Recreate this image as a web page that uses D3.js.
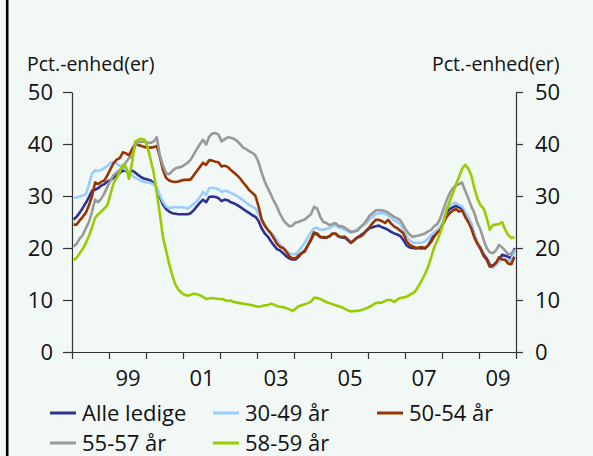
<!DOCTYPE html>
<html>
<head>
<meta charset="utf-8">
<script src="https://cdn.jsdelivr.net/npm/d3@7"></script>
<style>
    body { margin: 0; background: #f1f8f6; }
    svg { display: block; font-family: "Open Sans", sans-serif; }
</style>
</head>
<body>
<div id="chart"></div>
<script>
// månedlige tal, jan 1998 - dec 2009
const startYear = 1998;
const seriesNames = ["Alle ledige", "30-49 år", "50-54 år", "55-57 år", "58-59 år"];
const seriesColors = ["#2e3192", "#99ccff", "#993300", "#999999", "#99cc00"];
const yTicks = [0, 10, 20, 30, 40, 50];
const xLabelYears = [1999, 2001, 2003, 2005, 2007, 2009];
const xLabels = ["99", "01", "03", "05", "07", "09"];
const axisTitle = "Pct.-enhed(er)";

const alleLedige = [25.5,26.0,26.8,27.7,28.7,29.8,31.0,31.2,31.5,32.0,32.3,32.8,
    33.1,33.5,34.0,34.4,34.9,34.8,34.5,34.9,34.5,34.0,33.6,33.3,
    33.2,33.0,32.5,31.5,29.8,28.3,27.5,27.0,26.7,26.6,26.5,26.5,
    26.5,26.5,26.7,27.3,28.0,28.7,29.3,28.8,29.8,29.9,29.8,29.6,
    29.0,29.3,29.2,28.8,28.6,28.3,27.9,27.5,27.1,26.7,26.3,26.0,
    25.2,23.8,22.8,22.2,21.3,20.5,19.8,19.5,19.0,18.4,18.0,17.8,
    17.8,18.3,19.0,19.5,20.5,21.5,22.8,22.6,22.1,22.1,22.0,22.2,
    22.8,22.7,22.2,22.0,22.0,21.5,21.0,21.5,22.0,22.4,22.8,23.3,
    23.8,24.0,24.2,24.3,24.0,23.8,23.5,23.1,22.8,22.6,22.3,21.5,
    20.5,20.1,20.0,19.9,20.0,19.9,20.0,20.5,21.5,22.8,23.3,23.8,
    25.0,26.8,27.5,27.8,28.1,27.8,27.6,26.5,25.8,24.5,22.5,21.0,
    20.0,18.8,18.0,16.8,16.5,17.2,17.8,18.7,18.5,18.3,18.0,20.0];

const aar3049 = [29.6,29.7,29.9,30.1,30.3,32.3,34.3,35.0,34.8,35.0,35.4,35.8,
    36.4,36.6,36.2,35.8,35.5,35.0,34.5,34.0,33.5,33.2,32.9,32.7,
    32.6,32.5,32.2,31.5,30.2,28.9,28.0,27.7,27.8,27.9,27.8,27.9,
    27.8,27.6,28.0,28.5,29.0,29.8,30.8,30.2,31.5,31.6,31.5,31.3,
    30.8,31.0,30.9,30.6,30.3,30.0,29.6,29.2,28.7,28.3,27.9,27.6,
    26.5,25.5,24.5,23.5,23.0,22.3,21.5,20.6,20.1,19.5,19.0,18.8,
    18.8,19.4,20.2,21.0,22.1,23.0,23.8,23.9,23.5,23.5,23.7,23.8,
    24.3,24.4,24.0,23.8,23.5,23.2,22.9,23.2,23.6,24.0,24.5,24.8,
    25.5,26.0,26.5,26.7,26.7,26.6,26.3,25.8,25.3,25.0,24.6,23.5,
    22.3,21.5,21.0,21.0,21.0,21.0,21.3,21.8,22.5,23.0,23.5,24.0,
    25.5,27.5,28.2,28.5,28.7,28.3,28.0,27.0,26.0,24.5,22.5,21.0,
    19.8,18.5,17.6,16.5,16.2,16.8,17.3,18.0,17.8,17.6,17.7,19.4];

const aar5054 = [24.5,24.5,25.3,26.0,26.8,28.2,30.0,32.6,32.3,32.7,33.0,34.0,
    35.2,36.3,37.0,37.3,38.4,38.2,37.8,39.0,40.0,39.8,39.6,39.4,
    39.4,39.3,39.4,39.6,37.5,35.0,33.5,33.0,32.8,32.7,32.8,33.0,
    33.1,33.1,33.2,34.0,34.8,35.6,36.4,36.0,36.9,36.8,36.6,36.5,
    35.7,35.8,35.6,35.0,34.5,34.0,33.4,32.6,31.9,31.1,30.6,30.0,
    28.0,25.5,24.3,23.5,22.8,21.8,20.8,20.2,20.0,19.3,18.4,18.0,
    18.0,18.6,19.0,19.3,20.5,21.7,23.0,22.8,22.1,22.0,22.0,22.3,
    22.7,22.8,22.2,22.1,22.2,21.6,21.0,21.5,22.0,22.2,22.6,23.4,
    24.0,24.8,25.4,25.4,25.2,24.8,25.4,24.7,24.1,23.8,23.3,22.8,
    21.3,20.6,20.3,20.0,20.1,20.2,19.9,20.5,21.2,22.2,23.0,23.5,
    24.8,26.0,26.7,27.2,27.5,27.0,27.3,26.0,25.0,23.8,22.0,20.8,
    19.8,18.5,17.8,16.4,16.6,17.1,18.2,17.8,17.7,17.0,16.9,18.3];

const aar5557 = [20.3,20.8,21.8,22.5,23.8,25.0,27.0,29.3,28.8,29.5,30.5,31.8,
    33.0,34.0,34.5,35.0,35.6,36.5,37.3,37.6,39.8,40.4,40.4,40.5,
    40.3,40.2,40.5,41.3,37.8,35.8,34.4,34.2,34.8,35.3,35.5,35.6,
    36.0,36.4,37.0,38.0,39.0,40.0,40.8,39.9,41.4,42.0,42.1,41.8,
    40.5,40.9,41.3,41.2,41.0,40.6,40.0,39.3,39.0,38.6,38.3,37.8,
    36.5,34.5,32.8,31.5,30.3,29.0,27.9,26.5,25.4,24.7,24.2,24.3,
    24.9,25.0,25.3,25.5,26.0,26.5,27.9,27.6,26.0,25.0,24.8,24.4,
    24.6,24.8,24.2,24.2,23.9,23.5,23.1,23.2,23.3,24.0,24.5,25.3,
    26.2,26.7,27.2,27.3,27.2,27.1,26.8,26.4,26.0,25.7,25.3,24.3,
    23.3,22.6,22.1,22.3,22.4,22.6,22.8,23.2,23.5,24.2,24.6,25.8,
    27.5,29.2,30.5,31.5,32.0,32.3,32.6,31.0,29.6,28.0,26.7,24.8,
    23.5,21.6,20.0,19.2,19.0,19.5,20.6,20.1,19.5,18.8,18.9,19.8];

const aar5859 = [17.7,18.1,19.0,19.8,21.0,22.3,24.0,25.8,26.5,27.0,27.6,28.3,
    30.4,32.5,33.5,34.6,36.0,35.6,33.3,36.5,40.5,40.8,41.0,40.8,
    39.5,37.0,34.5,30.5,26.5,22.1,19.5,17.0,14.8,13.0,12.0,11.4,
    11.0,10.8,11.0,11.2,11.1,10.9,10.6,10.2,10.3,10.4,10.3,10.2,
    10.2,10.0,9.8,9.9,9.6,9.5,9.4,9.3,9.2,9.1,9.0,8.8,
    8.7,8.8,9.0,9.0,9.3,9.1,8.8,8.7,8.6,8.4,8.2,7.9,
    8.3,8.8,9.0,9.2,9.4,9.7,10.4,10.4,10.2,9.9,9.6,9.4,
    9.2,9.0,8.8,8.6,8.3,8.0,7.8,7.9,7.9,8.0,8.2,8.4,
    8.7,9.0,9.4,9.5,9.5,9.8,10.0,10.0,9.6,10.1,10.4,10.5,
    10.6,11.0,11.3,11.8,12.8,13.8,15.0,16.4,18.2,20.2,21.5,23.0,
    25.0,27.3,29.0,30.5,32.2,33.6,35.2,36.0,35.3,34.0,31.5,29.5,
    28.2,27.6,25.8,23.5,24.4,24.5,24.6,25.0,23.5,22.5,21.9,22.1];

const allSeries = [alleLedige, aar3049, aar5054, aar5557, aar5859];

document.addEventListener("DOMContentLoaded", function () {
    drawChart();
});

function drawChart(){
    const W = 593, H = 456;
    const margin = {top: 92, left: 72, right: 77, bottom: 104};

    const svg = d3.select("#chart").append("svg")
        .attr("width", W)
        .attr("height", H);

    svg.append("rect")
        .attr("width", W).attr("height", H)
        .attr("fill", "#f1f8f6");

    // sort kant til venstre
    svg.append("line")
        .attr("x1", 7.2).attr("x2", 7.2)
        .attr("y1", 0).attr("y2", H)
        .attr("stroke", "#000").attr("stroke-width", 2.6);

    const x = d3.scaleLinear()
        .domain([startYear, startYear + 12])
        .range([margin.left, W - margin.right]);

    const y = d3.scaleLinear()
        .domain([0, 50])
        .range([H - margin.bottom, margin.top]);

    // akser
    const yLeft = svg.append("g")
        .attr("transform", `translate(${margin.left},0)`)
        .call(d3.axisLeft(y).tickValues(yTicks).tickSize(9).tickSizeOuter(0).tickPadding(10));

    const yRight = svg.append("g")
        .attr("transform", `translate(${W - margin.right},0)`)
        .call(d3.axisRight(y).tickValues(yTicks).tickSize(7).tickSizeOuter(0).tickPadding(12));

    const yearTicks = d3.range(startYear, startYear + 13);
    const xAxis = svg.append("g")
        .attr("transform", `translate(0,${H - margin.bottom})`)
        .call(d3.axisBottom(x).tickValues(yearTicks).tickFormat("").tickSize(7).tickSizeOuter(0));

    const xLab = svg.append("g")
        .attr("transform", `translate(0,${H - margin.bottom})`)
        .call(d3.axisBottom(x)
            .tickValues(xLabelYears.map(d => d + 0.5))
            .tickFormat((d, i) => xLabels[i])
            .tickSize(0).tickPadding(18));
    xLab.select(".domain").remove();

    [yLeft, yRight, xAxis, xLab].forEach(g => {
        g.selectAll("path, line").attr("stroke", "#333").attr("stroke-width", 1.2);
        g.selectAll("text")
            .attr("font-family", "'Open Sans', sans-serif")
            .attr("font-size", 22)
            .attr("fill", "#111");
    });

    // akse titler
    svg.append("text")
        .attr("x", 27).attr("y", 71)
        .attr("font-size", 19.5).attr("fill", "#111")
        .text(axisTitle);
    svg.append("text")
        .attr("x", 432).attr("y", 71)
        .attr("font-size", 19.5).attr("fill", "#111")
        .text(axisTitle);

    // linjer
    const line = d3.line()
        .x((d, i) => x(startYear + (i + 0.5) / 12))
        .y(d => y(d));

    svg.selectAll(".serie")
        .data(allSeries)
        .join("path")
        .attr("class", "serie")
        .attr("d", d => line(d))
        .attr("fill", "none")
        .attr("stroke", (d, i) => seriesColors[i])
        .attr("stroke-width", 2.6)
        .attr("stroke-linejoin", "round");

    // legend
    const legendPos = [[50, 413], [213, 413], [377, 413], [50, 443], [213, 443]];
    const leg = svg.selectAll(".leg")
        .data(seriesNames)
        .join("g")
        .attr("class", "leg")
        .attr("transform", (d, i) => `translate(${legendPos[i][0]},${legendPos[i][1]})`);

    leg.append("line")
        .attr("x1", 0).attr("x2", 26)
        .attr("stroke", (d, i) => seriesColors[i])
        .attr("stroke-width", 3);

    leg.append("text")
        .attr("x", 32).attr("dy", "0.35em")
        .attr("font-size", 22).attr("fill", "#111")
        .text(d => d);
}
</script>
</body>
</html>
